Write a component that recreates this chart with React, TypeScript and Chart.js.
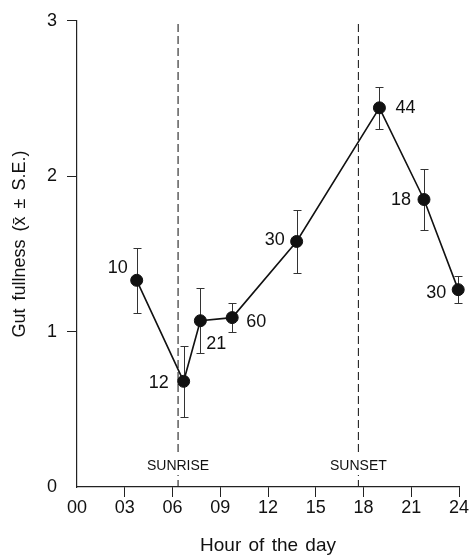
import { useEffect, useRef } from 'react';
import { Chart, registerables } from 'chart.js';

Chart.register(...registerables);

// ---- Data ----
const hours = [3.75, 6.7, 7.75, 9.75, 13.8, 19.0, 21.8, 23.95];
const gutFullness = [1.33, 0.68, 1.07, 1.09, 1.58, 2.44, 1.85, 1.27];
const standardError = [0.21, 0.23, 0.21, 0.095, 0.205, 0.135, 0.195, 0.085];
const sampleSizes = ['10', '12', '21', '60', '30', '44', '18', '30'];
const xTickLabels = ['00', '03', '06', '09', '12', '15', '18', '21', '24'];
const yTickLabels = ['0', '1', '2', '3'];
const sunEventLabels = ['SUNRISE', 'SUNSET'];
const sunEventHours = [6.35, 17.68];
const xTitle = 'Hour of the day';
const yTitle = 'Gut fullness (x\u0304 \u00B1 S.E.)';

// ---- Layout (label placement relative to each point, px) ----
const sampleLabelOffsets = [
  [-19, -12],
  [-25, 2],
  [16, 23],
  [24, 4],
  [-22, -1],
  [26, 0],
  [-23, 1],
  [-22, 3],
];

const FAMILY = '"Liberation Sans", Arial, Helvetica, sans-serif';
const INK = '#111';

const overlayPlugin = {
  id: 'overlay',
  beforeDatasetsDraw(chart: any) {
    const { ctx, chartArea, scales } = chart;
    const x = scales.x;
    const y = scales.y;
    ctx.save();
    // sunrise / sunset dashed lines
    ctx.strokeStyle = '#222';
    ctx.lineWidth = 1.1;
    ctx.setLineDash([8, 4]);
    sunEventHours.forEach((h) => {
      const px = x.getPixelForValue(h);
      ctx.beginPath();
      ctx.moveTo(px, y.getPixelForValue(2.98));
      ctx.lineTo(px, chartArea.bottom);
      ctx.stroke();
    });
    ctx.setLineDash([]);
    ctx.font = `14px ${FAMILY}`;
    ctx.textAlign = 'center';
    ctx.textBaseline = 'alphabetic';
    sunEventLabels.forEach((t, i) => {
      const px = x.getPixelForValue(sunEventHours[i]);
      const w = ctx.measureText(t).width;
      const base = chartArea.bottom - 17;
      ctx.fillStyle = '#fff';
      ctx.fillRect(px - w / 2 - 2, base - 17, w + 4, 22);
      ctx.fillStyle = INK;
      ctx.fillText(t, px, base);
    });
    // error bars
    ctx.strokeStyle = '#333';
    ctx.lineWidth = 1;
    hours.forEach((h, i) => {
      const px = Math.round(x.getPixelForValue(h)) + 0.5;
      const top = Math.round(y.getPixelForValue(gutFullness[i] + standardError[i])) + 0.5;
      const bot = Math.round(y.getPixelForValue(gutFullness[i] - standardError[i])) + 0.5;
      ctx.beginPath();
      ctx.moveTo(px, top);
      ctx.lineTo(px, bot);
      ctx.moveTo(px - 4, top);
      ctx.lineTo(px + 4, top);
      ctx.moveTo(px - 4, bot);
      ctx.lineTo(px + 4, bot);
      ctx.stroke();
    });
    ctx.restore();
  },
  afterDatasetsDraw(chart: any) {
    const { ctx, scales } = chart;
    const x = scales.x;
    const y = scales.y;
    ctx.save();
    ctx.font = `18px ${FAMILY}`;
    ctx.fillStyle = INK;
    ctx.textAlign = 'center';
    ctx.textBaseline = 'middle';
    sampleSizes.forEach((n, i) => {
      const px = x.getPixelForValue(hours[i]);
      const py = y.getPixelForValue(gutFullness[i]);
      const [dx, dy] = sampleLabelOffsets[i];
      ctx.fillText(n, px + dx, py + dy);
    });
    ctx.restore();
  },
  afterDraw(chart: any) {
    const { ctx, chartArea } = chart;
    ctx.save();
    ctx.fillStyle = INK;
    ctx.textAlign = 'center';
    ctx.textBaseline = 'alphabetic';
    // x title
    ctx.font = `19px ${FAMILY}`;
    (ctx as any).wordSpacing = '2px';
    ctx.fillText(xTitle, (chartArea.left + chartArea.right) / 2, 551);
    // y title
    ctx.font = `18px ${FAMILY}`;
    (ctx as any).wordSpacing = '3px';
    ctx.translate(25, 244);
    ctx.rotate(-Math.PI / 2);
    ctx.fillText(yTitle, 0, 0);
    ctx.restore();
  },
};

export default function App() {
  const canvasRef = useRef<HTMLCanvasElement | null>(null);

  useEffect(() => {
    if (!canvasRef.current) return;
    const tickColor = (c: any) =>
      c.tick && c.tick.value === 0 ? 'rgba(0,0,0,0)' : '#222';
    const chart = new Chart(canvasRef.current, {
      type: 'line',
      data: {
        datasets: [
          {
            data: hours.map((h, i) => ({ x: h, y: gutFullness[i] })),
            borderColor: '#111',
            borderWidth: 1.6,
            pointRadius: 6,
            pointBackgroundColor: '#111',
            pointBorderColor: '#111',
            pointBorderWidth: 1,
            tension: 0,
            fill: false,
            clip: false,
          },
        ],
      },
      options: {
        responsive: false,
        animation: false,
        devicePixelRatio: 1,
        layout: { padding: { left: 0, top: 17, right: 11, bottom: 0 } },
        plugins: {
          legend: { display: false },
          tooltip: { enabled: false },
        },
        scales: {
          x: {
            type: 'linear',
            min: 0,
            max: 24,
            afterFit: (s: any) => {
              s.height = 69;
            },
            ticks: {
              stepSize: 3,
              padding: 0,
              color: INK,
              maxRotation: 0,
              autoSkip: false,
              font: { size: 18, family: FAMILY },
              callback: (v: any) => xTickLabels[Math.round(Number(v) / 3)] ?? '',
            },
            grid: {
              drawOnChartArea: false,
              drawTicks: true,
              tickLength: 10,
              color: tickColor,
              lineWidth: 1,
            },
            border: { display: true, color: '#222', width: 1.2 },
          },
          y: {
            type: 'linear',
            min: 0,
            max: 3,
            afterFit: (s: any) => {
              s.width = 77;
            },
            ticks: {
              stepSize: 1,
              padding: 10,
              color: INK,
              font: { size: 18, family: FAMILY },
              callback: (v: any) => yTickLabels[Math.round(Number(v))] ?? '',
            },
            grid: {
              drawOnChartArea: false,
              drawTicks: true,
              tickLength: 10,
              color: tickColor,
              lineWidth: 1,
            },
            border: { display: true, color: '#222', width: 1.2 },
          },
        },
      },
      plugins: [overlayPlugin],
    });
    return () => chart.destroy();
  }, []);

  return (
    <div
      style={{
        position: 'absolute',
        left: 0,
        top: 0,
        width: 470,
        height: 556,
        background: '#fff',
      }}
    >
      <canvas ref={canvasRef} width={470} height={556} />
    </div>
  );
}
